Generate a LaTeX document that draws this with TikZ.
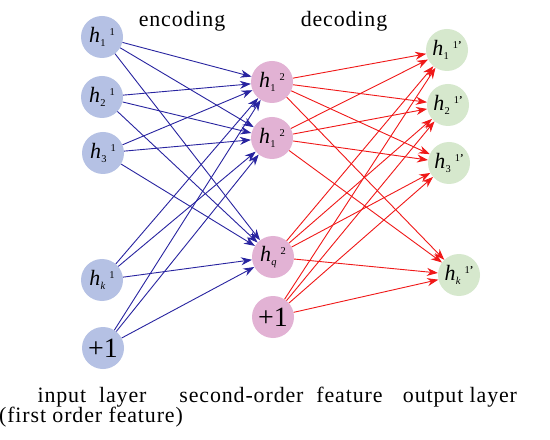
\documentclass[tikz,border=0pt]{standalone}
\usepackage{fontspec}
\setmainfont{Liberation Serif}
\usetikzlibrary{arrows.meta}
\definecolor{inblue}{RGB}{181,193,228}
\definecolor{midpink}{RGB}{226,178,212}
\definecolor{outgreen}{RGB}{214,232,205}
\definecolor{encblue}{RGB}{40,36,160}
\definecolor{decred}{RGB}{240,24,24}
\newcommand\hlab[2]{\textit{h}\kern0.3pt\raisebox{-0.45ex}{\fontsize{10.5}{10}\selectfont #1}\kern4pt\raisebox{0.7ex}{\fontsize{10.5}{10}\selectfont #2}}
\tikzset{
  neuron/.style={circle, minimum size=42bp, inner sep=0pt, font=\fontsize{22}{22}\selectfont},
  innode/.style={neuron, fill=inblue},
  midnode/.style={neuron, fill=midpink},
  outnode/.style={neuron, fill=outgreen},
  plusone/.style={font=\fontsize{28}{28}\selectfont},
  enc/.style={draw=encblue, line width=0.9bp, -{Stealth[length=11bp,width=8bp]}},
  dec/.style={draw=decred, line width=0.9bp, -{Stealth[length=11bp,width=8bp]}},
  lab/.style={anchor=base, font=\fontsize{22}{22}\selectfont\addfontfeatures{LetterSpace=4}, inner sep=0pt}
}
\begin{document}
\begin{tikzpicture}[x=1bp,y=-1bp]
\useasboundingbox[fill=white] (0,0) rectangle (550,440);
% input layer
\node[innode] (i1) at (102,37) {\hlab{1}{1}};
\node[innode] (i2) at (102,97) {\hlab{2}{1}};
\node[innode] (i3) at (103,153) {\hlab{3}{1}};
\node[innode] (ik) at (102,280) {\hlab{\textit{k}}{1}};
\node[innode,plusone] (ib) at (103,348) {+1};
% middle layer
\node[midnode] (m1) at (272,82) {\hlab{1}{2}};
\node[midnode] (m2) at (272,138) {\hlab{1}{2}};
\node[midnode] (mq) at (273,257) {\hlab{\textit{q}}{2}};
\node[midnode,plusone] (mb) at (273,317) {+1};
% output layer
\node[outnode] (o1) at (447,50) {\hlab{1}{1\textbf{'}}};
\node[outnode] (o2) at (448,105) {\hlab{2}{1\textbf{'}}};
\node[outnode] (o3) at (449,163) {\hlab{3}{1\textbf{'}}};
\node[outnode] (ok) at (459,275) {\hlab{\textit{k}}{1\textbf{'}}};
% connections
\foreach \a in {i1,i2,i3,ik,ib}
  \foreach \b in {m1,m2,mq}
    \draw[enc] (\a) -- (\b);
\foreach \a in {m1,m2,mq,mb}
  \foreach \b in {o1,o2,o3,ok}
    \draw[dec] (\a) -- (\b);
% labels
\node[lab] (tenc) at (182,27) {encoding};
\node[lab] (tdec) at (344,27) {decoding};
\node[lab] (tin) at (92,402) {input\hspace{0.3em} layer};
\node[lab] (tin2) at (91,422) {(first order feature)};
\node[lab] (tmid) at (281,402) {second-order\hspace{0.3em} feature};
\node[lab] (tout) at (460,402) {output layer};
\end{tikzpicture}
\end{document}
